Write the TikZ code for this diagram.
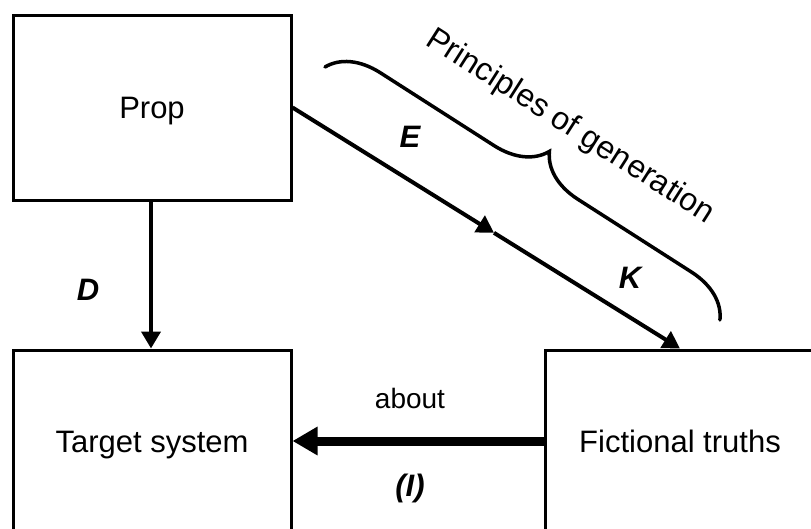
\documentclass[tikz,border=0pt]{standalone}
\usepackage{fontspec}
\setmainfont{Liberation Sans}
\usetikzlibrary{arrows.meta,calc,decorations.pathreplacing}
\begin{document}
\begin{tikzpicture}[x=1pt,y=-1pt,
  box/.style={draw,line width=3pt,inner sep=0pt,text height=22.5pt,text depth=0pt,
    font=\fontsize{31}{36}\selectfont},
  arr/.style={line width=4pt,-{Triangle[length=17pt,width=19pt]}},
  bigarr/.style={line width=9pt,-{Triangle[length=25pt,width=27pt]}},
  lab/.style={font=\fontsize{31}{36}\selectfont\bfseries\itshape},
  txt/.style={font=\fontsize{32}{36}\selectfont}]
  \useasboundingbox (0,0) rectangle (811,528);
  \clip (0,0) rectangle (811,528);

  % the three boxes (two run past the page edge)
  \node[box,minimum width=278pt,minimum height=185pt] (prop) at (152,107.5) {Prop};
  \node[box,minimum width=278pt,minimum height=182pt] (target) at (152,441) {Target system};
  \node[box,minimum width=270pt,minimum height=182pt] (fict) at (680,441) {Fictional truths};

  % D: prop to target system
  \draw[arr] (prop.south -| 151,0) -- (target.north -| 151,0);
  \node[lab] (dlab) at (88,290) {D};

  % E and K: prop to fictional truths, arrowhead halfway
  \coordinate (mid) at ($(prop.east)!0.52!(fict.north)$);
  \draw[arr] (prop.east) -- (mid);
  \draw[arr] (mid) -- (fict.north);
  \node[lab] (elab) at (410,137) {E};
  \node[lab] (klab) at (630,278) {K};

  % principles of generation brace
  \coordinate (bra) at (325,67);
  \coordinate (brb) at (720,320);
  \draw[line width=3.5pt,line cap=round,decorate,
    decoration={brace,amplitude=50pt}] (bra) -- (brb);
  \node[txt,rotate=-32.5] (pog) at (570,127) {Principles of generation};

  % about: fictional truths to target system
  \draw[bigarr] (fict.west) -- (target.east);
  \node[font=\fontsize{28}{32}\selectfont] (about) at (410,398) {about};
  \node[lab] (ilab) at (410,488) {(I)};
\end{tikzpicture}
\end{document}
